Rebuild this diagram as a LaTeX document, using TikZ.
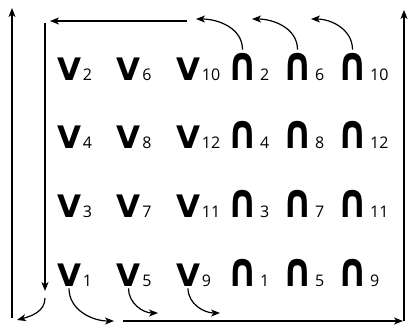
\documentclass[tikz,border=0pt]{standalone}
\usepackage{fontspec}
\setmainfont{Open Sans}
\newfontfamily\symfont{DejaVu Sans}
\usetikzlibrary{arrows.meta}

\tikzset{
  sym/.style={inner sep=0pt, anchor=base, font=\symfont\bfseries\fontsize{31}{31}\selectfont},
  capsym/.style={sym, xscale=0.8, font=\symfont\bfseries\fontsize{47}{47}\selectfont},
  idx/.style={inner sep=0pt, anchor=base west, font=\fontsize{16}{16}\selectfont},
  flow/.style={line width=1.2pt, -{Stealth[length=9pt, width=7pt, inset=2.5pt]}},
}

\begin{document}
\begin{tikzpicture}[x=1pt, y=-1pt]
  \useasboundingbox (0, 0) rectangle (409, 330);

  % grille V / inter
  \foreach \k/\c/\r in {2/1/1, 6/2/1, 10/3/1, 4/1/2, 8/2/2, 12/3/2,
                        3/1/3, 7/2/3, 11/3/3, 1/1/4, 5/2/4, 9/3/4} {
    \node[sym] (v\k) at ({69 + (\c-1)*59.5}, {80 + (\r-1)*68.7}) {V};
    \node[idx] at ([xshift=1.5pt]v\k.base east) {\k};
    \node[capsym] (n\k) at ({242.5 + (\c-1)*55}, {80 + (\r-1)*68.7}) {∩};
    \node[idx] at ([xshift=2pt]n\k.base east) {\k};
  }

  % cadre
  \coordinate (outbot) at (12, 318);
  \coordinate (outtop) at (12, 8);
  \coordinate (topstart) at (187, 21);
  \coordinate (topend) at (50, 21);
  \coordinate (instart) at (45, 23);
  \coordinate (inend) at (45, 291);
  \coordinate (botstart) at (123, 321);
  \coordinate (botend) at (403, 321);
  \coordinate (rightbot) at (404, 321);
  \coordinate (righttop) at (404, 10);

  \draw[flow] (outbot) -- (outtop);
  \draw[flow] (topstart) -- (topend);
  \draw[flow] (instart) -- (inend);
  \draw[flow] (botstart) -- (botend);
  \draw[flow] (rightbot) -- (righttop);

  % retours en haut
  \coordinate (ret2) at (196, 19);
  \coordinate (ret6) at (252, 19);
  \coordinate (ret10) at (311, 19);
  \draw[flow] ([yshift=3pt]n2.north) to[out=90, in=0] (ret2);
  \draw[flow] ([yshift=3pt]n6.north) to[out=90, in=0] (ret6);
  \draw[flow] ([yshift=3pt]n10.north) to[out=90, in=0] (ret10);

  % sorties en bas
  \coordinate (turn) at (45, 298);
  \coordinate (left1) at (17, 320);
  \coordinate (out1) at (114, 321);
  \coordinate (out5) at (158, 313);
  \coordinate (out9) at (220, 313);
  \draw[flow] (turn) to[out=-90, in=15] (left1);
  \draw[flow] ([yshift=-2pt]v1.south) to[out=-90, in=180] (out1);
  \draw[flow] ([yshift=-2pt]v5.south) to[out=-90, in=180] (out5);
  \draw[flow] ([yshift=-2pt]v9.south) to[out=-90, in=180] (out9);
\end{tikzpicture}
\end{document}
